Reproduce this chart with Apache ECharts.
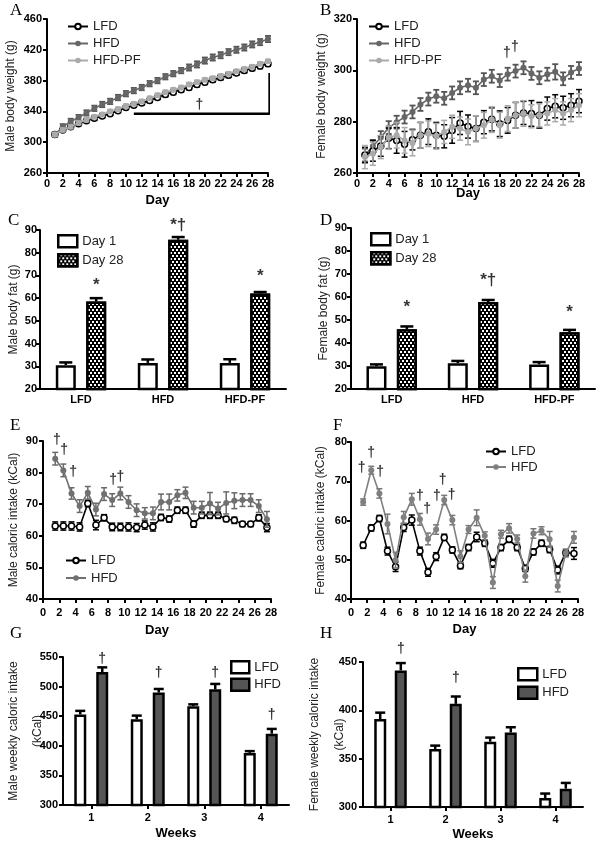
<!DOCTYPE html>
<html><head><meta charset="utf-8">
<script src="https://cdn.jsdelivr.net/npm/echarts@6/dist/echarts.min.js"></script>
<style>
html,body{margin:0;padding:0;background:#fff;}
#wrap{position:relative;width:601px;height:844px;overflow:hidden;}
.c{position:absolute;left:0;top:0;width:601px;height:844px;}
</style></head>
<body><div id="wrap"></div>
<script>
// ---------------- DATA ----------------
const days = [1,2,3,4,5,6,7,8,9,10,11,12,13,14,15,16,17,18,19,20,21,22,23,24,25,26,27,28];
const maleWeightLFD = [310,316,320,324,328,331,334,337,341,345,348,351,354,358,362,365,368,371,375,378,381,384,387,390,393,396,399,402];
const maleWeightHFD = [310,320,327,332,338,344,349,353,358,363,367,371,376,380,385,389,393,397,401,406,410,413,417,420,423,427,430,434];
const maleWeightPF  = [310,316,320,325,329,333,336,340,343,347,350,353,357,361,365,368,371,375,378,381,383,386,389,392,395,398,402,405];
const maleWeightErrLFD = [3,2.5,2.5,2.5,2.5,2.5,2.5,2.5,2.5,2.5,2.5,2.5,2.5,2.5,3,3,3,3,3,3,3,3,3,3,3,3,3.5,3.5];
const maleWeightErrHFD = [3,3.5,3.5,3.5,3.5,3.5,3.5,3.5,3.5,3.5,3.5,3.5,3.5,3.5,3.5,3.5,3.5,4,4,4,4,4,4,4,4,4,4,4];
const maleWeightErrPF  = [2.5,2.5,2.5,2.5,2.5,2.5,2.5,2.5,2.5,2.5,2.5,2.5,2.5,2.5,2.5,2.5,2.5,2.5,2.5,2.5,2.5,2.5,2.5,2.5,2.5,2.5,2.5,2.5];
const maleWeightBracket = [[11,337],[28.2,337],[28.2,390]];
const maleWeightMarks = [[19.3,348,'†']];

const femaleWeightLFD = [267,268.6,270.5,273.5,272.7,271.2,273,274.7,276.1,274.7,274.3,276.6,279.5,278.1,277.3,279.8,280.9,279.2,280.5,282.5,283.4,283.2,282.5,285.1,286,285.4,286.4,288];
const femaleWeightHFD = [267,270.4,273.8,277.7,279.8,281.8,283.8,286.7,288.8,289.9,289.1,291.2,293.2,294.2,293.2,296.4,297.7,296,298.5,299.7,301,298.8,297.1,298.5,299.4,296.7,299.2,300.7];
const femaleWeightPF  = [266.2,267.5,270.1,273.8,274.7,272.7,271.7,274.7,275.3,274.3,276,278,277.3,276,277.3,278.6,280.8,278.6,281.2,282.5,283.2,282.1,282.5,283.2,284.5,283.2,284.5,286.4];
const femaleWeightErrLFD = [3,4,4,4,5,5,4,5,5,5,4.5,5,4.5,4.5,5,4.5,4.5,5,5,5,4.5,5,5,4.5,4.5,4.5,4.5,4.5];
const femaleWeightErrHFD = [2.5,2.5,2.5,2.5,2.5,2.5,2.5,2.5,2.5,2.5,2.5,2.5,2.5,2.5,2.5,2.5,2.5,2.5,2.5,2.5,2.5,2.5,2.5,2.5,3,2.5,2.5,2.5];
const femaleWeightErrPF  = [4.5,4.5,4.5,4.5,5,5,5,5,5,5,4.5,4.5,4.5,5,5,5,5,5,5,5,5,4.5,4.5,4.5,4.5,4.5,4.5,4.5];
const femaleWeightMarks = [[18.9,306.6,'†'],[19.9,309.2,'†']];

const fatGroups = ['LFD','HFD','HFD-PF'];
const maleFatDay1 = [30.5,31.5,31.5];
const maleFatDay1Err = [1.2,1.5,1.6];
const maleFatDay28 = [58.5,85.7,62];
const maleFatDay28Err = [1.5,1.2,0.7];
const maleFatMarks = [[0,65.7,'*'],[1,92.2,'*†'],[2,69.4,'*']];
const femaleFatDay1 = [29.9,31.2,30.7];
const femaleFatDay1Err = [0.8,1,1];
const femaleFatDay28 = [46,57.8,44.7];
const femaleFatDay28Err = [1.2,0.9,1];
const femaleFatMarks = [[0,55.7,'*'],[1,67.2,'*†'],[2,53.5,'*']];

const halfDays = [1.5,2.5,3.5,4.5,5.5,6.5,7.5,8.5,9.5,10.5,11.5,12.5,13.5,14.5,15.5,16.5,17.5,18.5,19.5,20.5,21.5,22.5,23.5,24.5,25.5,26.5,27.5];
const maleIntakeHFD = [84.4,80.7,73.4,69.4,73.6,68.3,73.2,71.3,73.4,70.7,68.1,67.1,67.1,70.7,70.7,72.8,73.6,68.9,68.9,70.2,68.6,70.4,71.1,71.3,71.3,69.4,65.2];
const maleIntakeErrHFD = [2,2,1.8,2,2,2,2,2,2,2,2,1.8,2,2.5,2.5,1.8,1.8,2,2,3.5,2,3.5,2.5,2,2,2,2.5];
const maleIntakeLFD = [63.1,63.1,63.1,62.8,70.2,63.4,65.7,62.8,62.8,62.8,62.6,63.4,62.8,65.8,65.3,68.1,68.1,63.7,66.5,66.5,66.5,65.3,64.9,63.7,63.7,65.7,62.6];
const maleIntakeErrLFD = [1.3,1.3,1.3,1.3,1,1.5,1,1.2,1.2,1.3,1.3,1.3,1.3,1,1,1,1,1,1,1,1,0.8,1,0.8,0.8,1,1.3];
const maleIntakeMarks = [[1.7,90.2,'†'],[2.6,87,'†'],[3.7,80,'†'],[8.6,77.7,'†'],[9.5,78.7,'†']];

const femaleIntakeHFD = [64.7,72.8,66.9,59.1,49.9,60.8,65.4,60.3,55.3,57.7,65.2,60.1,50.8,57.7,60.7,56.1,44.2,56.5,58,55.3,45.8,56.7,57.4,55.2,43.3,51.7,55.7];
const femaleIntakeErrHFD = [0.8,1,1.2,2.5,2,1.5,1.5,1.5,1.5,1.2,1.2,1.2,1.5,1,2,1,1.5,1,1.2,1,1.5,1.2,1,2,1.5,1,1.5];
const femaleIntakeLFD = [53.7,58.1,60.5,52.2,48.2,58.2,60.1,52.2,46.8,50.8,55.7,52.5,48.5,53.1,55.8,54.2,49.1,53.1,55.2,53.1,47.8,52,54.2,52.6,47.4,51.8,51.6];
const femaleIntakeErrLFD = [0.8,0.8,0.8,1,1.2,1,1.3,1,1,1,0.8,0.8,0.8,0.8,1.2,0.8,1,0.8,0.8,0.8,0.8,0.8,0.8,0.8,1,0.8,1.5];
const femaleIntakeMarks = [[1.3,73.3,'†'],[2.5,77.1,'†'],[3.6,72.4,'†'],[8.5,66.1,'†'],[9.4,62.9,'†'],[10.6,66.2,'†'],[11.3,70.3,'†'],[12.4,66.5,'†']];

const weeks = ['1','2','3','4'];
const maleWeeklyLFD = [453,445,467,388];
const maleWeeklyErrLFD = [6,6,3,3];
const maleWeeklyHFD = [524.5,490,495.5,420.5];
const maleWeeklyErrHFD = [8,6,9,8];
const maleWeeklyMarks = [[0,547,'†'],[1,523,'†'],[2,523,'†'],[3,452,'†']];
const femaleWeeklyLFD = [391,360,367.6,309.4];
const femaleWeeklyErrLFD = [6.6,3.5,4.2,4.5];
const femaleWeeklyHFD = [441.3,406.7,377,319];
const femaleWeeklyErrHFD = [7.6,7.6,5.5,5.9];
const femaleWeeklyMarks = [[0,463,'†'],[1,433,'†']];

// ---------------- HELPERS ----------------
const FONT = '"Liberation Sans", Arial, sans-serif';
const SERIF = '"Liberation Serif", "Times New Roman", serif';

function axisBase(margin){
  return {
    nameMoveOverlap:false,
    axisLine:{show:true, onZero:false, lineStyle:{color:'#000', width:2}},
    axisTick:{show:true, length:4, lineStyle:{color:'#000', width:2}},
    axisLabel:{color:'#000', fontFamily:FONT, fontWeight:'bold', fontSize:11, margin:margin},
    splitLine:{show:false}
  };
}
function yAxis(min,max,interval,name,nameGap,margin,lh){
  const a = axisBase(margin);
  Object.assign(a,{type:'value',min,max,interval,name,nameLocation:'middle',nameGap,
    nameTextStyle:{color:'#222',fontFamily:FONT,fontSize:12,lineHeight:lh||14}});
  return a;
}
function xValAxis(min,max,interval,name,nameGap,margin){
  const a = axisBase(margin);
  Object.assign(a,{type:'value',min,max,interval,name,nameLocation:'middle',nameGap,
    nameTextStyle:{color:'#000',fontFamily:FONT,fontSize:13,fontWeight:'bold'}});
  return a;
}
function xCatAxis(data,name,nameGap,margin,tick){
  const a = axisBase(margin);
  Object.assign(a,{type:'category',data,name,nameLocation:'middle',nameGap,
    nameTextStyle:{color:'#000',fontFamily:FONT,fontSize:13,fontWeight:'bold'}});
  a.axisTick = {show:!!tick, alignWithLabel:true, length:4, lineStyle:{color:'#000',width:2}};
  return a;
}
function grid(left,top,width,height){
  return {left,top,width,height,containLabel:false,outerBoundsMode:'none'};
}
function letter(t,left,top){
  return {text:t,left,top,padding:0,textStyle:{fontFamily:SERIF,fontWeight:'normal',fontSize:17,color:'#000'}};
}
function lineSeries(name,xs,ys,color,z,hollow){
  return {type:'line',name,z,clip:false,data:xs.map((x,i)=>[x,ys[i]]),symbol:'circle',symbolSize:6,showSymbol:true,
    lineStyle:{color,width:1.6},
    itemStyle:{color:hollow?'#fff':color,borderColor:color,borderWidth:hollow?1.5:0}};
}
function errSeries(xs,ys,es,color,opt){
  return {type:'custom',z:opt.z,clip:false,silent:true,
    data:xs.map((x,i)=>[x,ys[i],es[i]]),
    encode:{x:0,y:1},
    renderItem:function(params,api){
      const x=api.value(0),y=api.value(1),e=api.value(2);
      const c=api.coord([x,y]);
      const t=api.coord([x,y+e]);
      const b=opt.upOnly?c:api.coord([x,y-e]);
      const cx=c[0]+(opt.offset||0);
      const hw=opt.cap/2;
      const ch=[
        {type:'line',shape:{x1:cx,y1:b[1],x2:cx,y2:t[1]},style:{stroke:color,lineWidth:opt.lw}},
        {type:'line',shape:{x1:cx-hw,y1:t[1],x2:cx+hw,y2:t[1]},style:{stroke:color,lineWidth:opt.lw}}
      ];
      if(!opt.upOnly) ch.push({type:'line',shape:{x1:cx-hw,y1:b[1],x2:cx+hw,y2:b[1]},style:{stroke:color,lineWidth:opt.lw}});
      return {type:'group',children:ch};
    }};
}
function markSeries(items,fontSize,offsetX){
  return {type:'scatter',silent:true,clip:false,z:20,symbolSize:1,itemStyle:{color:'rgba(0,0,0,0)'},
    data:items.map(a=>({value:[a[0],a[1]],label:{formatter:a[2]}})),
    label:{show:true,position:'inside',color:'#000',fontFamily:FONT,fontWeight:'bold',fontSize,offset:[offsetX||0,0]}};
}
function barSeries(name,data,fill,bw,gap,decal){
  const s={type:'bar',name,data,barWidth:bw,barGap:gap,z:2,
    itemStyle:{color:fill,borderColor:'#000',borderWidth:2.5}};
  if(decal) s.itemStyle.decal=decal;
  return s;
}
const dots = {symbol:'rect',symbolSize:1,color:'#ffffff',dashArrayX:[[2,2],[0,2,2,0]],dashArrayY:[2,1],rotation:0};
function legend(names,left,top,gap,iw,ih,extra){
  return Object.assign({data:names,orient:'vertical',left,top,padding:0,itemGap:gap,itemWidth:iw,itemHeight:ih,
    textStyle:{fontFamily:FONT,fontSize:13,color:'#222'}},extra||{});
}

// ---------------- PANELS ----------------
const panels = [];

// A
panels.push({
  title: letter('A',10,2),
  grid: grid(47,19,221,154),
  xAxis: xValAxis(0,28,2,'Day',21,5),
  yAxis: yAxis(260,460,40,'Male body weight (g)',29,5),
  legend: legend(['LFD','HFD','HFD-PF'],67,20,4,20,7),
  series: [
    errSeries(days,maleWeightLFD,maleWeightErrLFD,'#000',{z:1,cap:6,lw:1.5}),
    lineSeries('LFD',days,maleWeightLFD,'#000',2,true),
    errSeries(days,maleWeightHFD,maleWeightErrHFD,'#555',{z:3,cap:6,lw:1.8}),
    lineSeries('HFD',days,maleWeightHFD,'#666',4,false),
    errSeries(days,maleWeightPF,maleWeightErrPF,'#aaa',{z:5,cap:6,lw:1.5}),
    lineSeries('HFD-PF',days,maleWeightPF,'#aaa',6,false),
    {type:'line',silent:true,clip:false,z:8,data:maleWeightBracket,symbol:'none',lineStyle:{color:'#000',width:2.5}},
    markSeries(maleWeightMarks,14)
  ]
});

// B
panels.push({
  title: letter('B',320,2),
  grid: grid(357,19,222,154),
  xAxis: xValAxis(0,28,2,'Day',13.5,5),
  yAxis: yAxis(260,320,20,'Female body weight (g)',28,5),
  legend: legend(['LFD','HFD','HFD-PF'],368,20,4,20,7),
  series: [
    errSeries(days,femaleWeightHFD,femaleWeightErrHFD,'#555',{z:1,cap:6,lw:1.8}),
    lineSeries('HFD',days,femaleWeightHFD,'#666',2,false),
    errSeries(days,femaleWeightLFD,femaleWeightErrLFD,'#000',{z:3,cap:6,lw:1.5}),
    lineSeries('LFD',days,femaleWeightLFD,'#000',4,true),
    errSeries(days,femaleWeightPF,femaleWeightErrPF,'#aaa',{z:5,cap:6,lw:1.5}),
    lineSeries('HFD-PF',days,femaleWeightPF,'#aaa',6,false),
    markSeries(femaleWeightMarks,14)
  ]
});

// C
panels.push({
  title: letter('C',8,212),
  grid: grid(40,230,246,159),
  xAxis: xCatAxis(fatGroups,'',20,5.5,false),
  yAxis: yAxis(20,90,10,'Male body fat (g)',19,3),
  legend: legend(['Day 1','Day 28'],57,234,4.5,19,12,{icon:'rect',itemStyle:{borderWidth:2.5,borderColor:'#000'}}),
  series: [
    barSeries('Day 1',maleFatDay1,'#fff',20,'52%'),
    barSeries('Day 28',maleFatDay28,'#000',20,'52%',dots),
    errSeries([0,1,2],maleFatDay1,maleFatDay1Err,'#000',{z:3,cap:13,lw:2.5,upOnly:true,offset:-15.2}),
    errSeries([0,1,2],maleFatDay28,maleFatDay28Err,'#000',{z:3,cap:13,lw:2.5,upOnly:true,offset:15.2}),
    markSeries(maleFatMarks,17,15.2)
  ]
});

// D
panels.push({
  title: letter('D',320,212),
  grid: grid(351,228,244,161),
  xAxis: xCatAxis(fatGroups,'',20,5.5,false),
  yAxis: yAxis(20,90,10,'Female body fat (g)',20,4),
  legend: legend(['Day 1','Day 28'],370,232,4.5,19,12,{icon:'rect',itemStyle:{borderWidth:2.5,borderColor:'#000'}}),
  series: [
    barSeries('Day 1',femaleFatDay1,'#fff',20,'52%'),
    barSeries('Day 28',femaleFatDay28,'#000',20,'52%',dots),
    errSeries([0,1,2],femaleFatDay1,femaleFatDay1Err,'#000',{z:3,cap:13,lw:2.5,upOnly:true,offset:-15.2}),
    errSeries([0,1,2],femaleFatDay28,femaleFatDay28Err,'#000',{z:3,cap:13,lw:2.5,upOnly:true,offset:15.2}),
    markSeries(femaleFatMarks,17,15.2)
  ]
});

// E
panels.push({
  title: letter('E',10,417),
  grid: grid(43,441,228,158),
  xAxis: xValAxis(0,28,2,'Day',24.5,8),
  yAxis: yAxis(40,90,10,'Male caloric intake (kCal)',22,5),
  legend: legend(['LFD','HFD'],65,554,4.5,20,7),
  series: [
    errSeries(halfDays,maleIntakeLFD,maleIntakeErrLFD,'#000',{z:1,cap:6,lw:1.5}),
    lineSeries('LFD',halfDays,maleIntakeLFD,'#000',2,true),
    errSeries(halfDays,maleIntakeHFD,maleIntakeErrHFD,'#6a6a6a',{z:3,cap:6,lw:1.5}),
    lineSeries('HFD',halfDays,maleIntakeHFD,'#707070',4,false),
    markSeries(maleIntakeMarks,14)
  ]
});

// F
panels.push({
  title: letter('F',333,417),
  grid: grid(351,442,227,157),
  xAxis: xValAxis(0,28,2,'Day',23.5,8),
  yAxis: yAxis(40,80,10,'Female caloric intake (kCal)',23,4),
  legend: legend(['LFD','HFD'],485,445,2.5,20,7),
  series: [
    errSeries(halfDays,femaleIntakeLFD,femaleIntakeErrLFD,'#000',{z:1,cap:6,lw:1.5}),
    lineSeries('LFD',halfDays,femaleIntakeLFD,'#000',2,true),
    errSeries(halfDays,femaleIntakeHFD,femaleIntakeErrHFD,'#777',{z:3,cap:6,lw:1.5}),
    lineSeries('HFD',halfDays,femaleIntakeHFD,'#808080',4,false),
    markSeries(femaleIntakeMarks,14)
  ]
});

// G
panels.push({
  title: letter('G',10,625),
  grid: grid(63,657,226,148),
  xAxis: xCatAxis(weeks,'Weeks',21.5,7.5,true),
  yAxis: yAxis(300,550,50,'Male weekly caloric intake\n(kCal)',13,5,24),
  legend: legend(['LFD','HFD'],230,660,3,18,12,{icon:'rect',itemStyle:{borderWidth:2.5,borderColor:'#000'}}),
  series: [
    barSeries('LFD',maleWeeklyLFD,'#fff',12,'83%'),
    barSeries('HFD',maleWeeklyHFD,'#555',12,'83%'),
    errSeries([0,1,2,3],maleWeeklyLFD,maleWeeklyErrLFD,'#000',{z:3,cap:10,lw:2.5,upOnly:true,offset:-11}),
    errSeries([0,1,2,3],maleWeeklyHFD,maleWeeklyErrHFD,'#000',{z:3,cap:10,lw:2.5,upOnly:true,offset:11}),
    markSeries(maleWeeklyMarks,14,11)
  ]
});

// H
panels.push({
  title: letter('H',320,625),
  grid: grid(363,662,220,145),
  xAxis: xCatAxis(weeks,'Weeks',20.5,7.5,true),
  yAxis: yAxis(300,450,50,'Female weekly caloric intake\n(kCal)',10.5,6,25),
  legend: legend(['LFD','HFD'],517,667,4,19,12,{icon:'rect',itemStyle:{borderWidth:2.5,borderColor:'#000'}}),
  series: [
    barSeries('LFD',femaleWeeklyLFD,'#fff',12,'71%'),
    barSeries('HFD',femaleWeeklyHFD,'#555',12,'71%'),
    errSeries([0,1,2,3],femaleWeeklyLFD,femaleWeeklyErrLFD,'#000',{z:3,cap:10,lw:2.5,upOnly:true,offset:-10.3}),
    errSeries([0,1,2,3],femaleWeeklyHFD,femaleWeeklyErrHFD,'#000',{z:3,cap:10,lw:2.5,upOnly:true,offset:10.3}),
    markSeries(femaleWeeklyMarks,14,10.3)
  ]
});

const wrap = document.getElementById('wrap');
panels.forEach((opt,i)=>{
  const d=document.createElement('div');
  d.className='c';
  wrap.appendChild(d);
  const ch=echarts.init(d,null,{renderer:'canvas'});
  opt.animation=false;
  opt.tooltip={show:false};
  ch.setOption(opt);
});
</script>
</body></html>
